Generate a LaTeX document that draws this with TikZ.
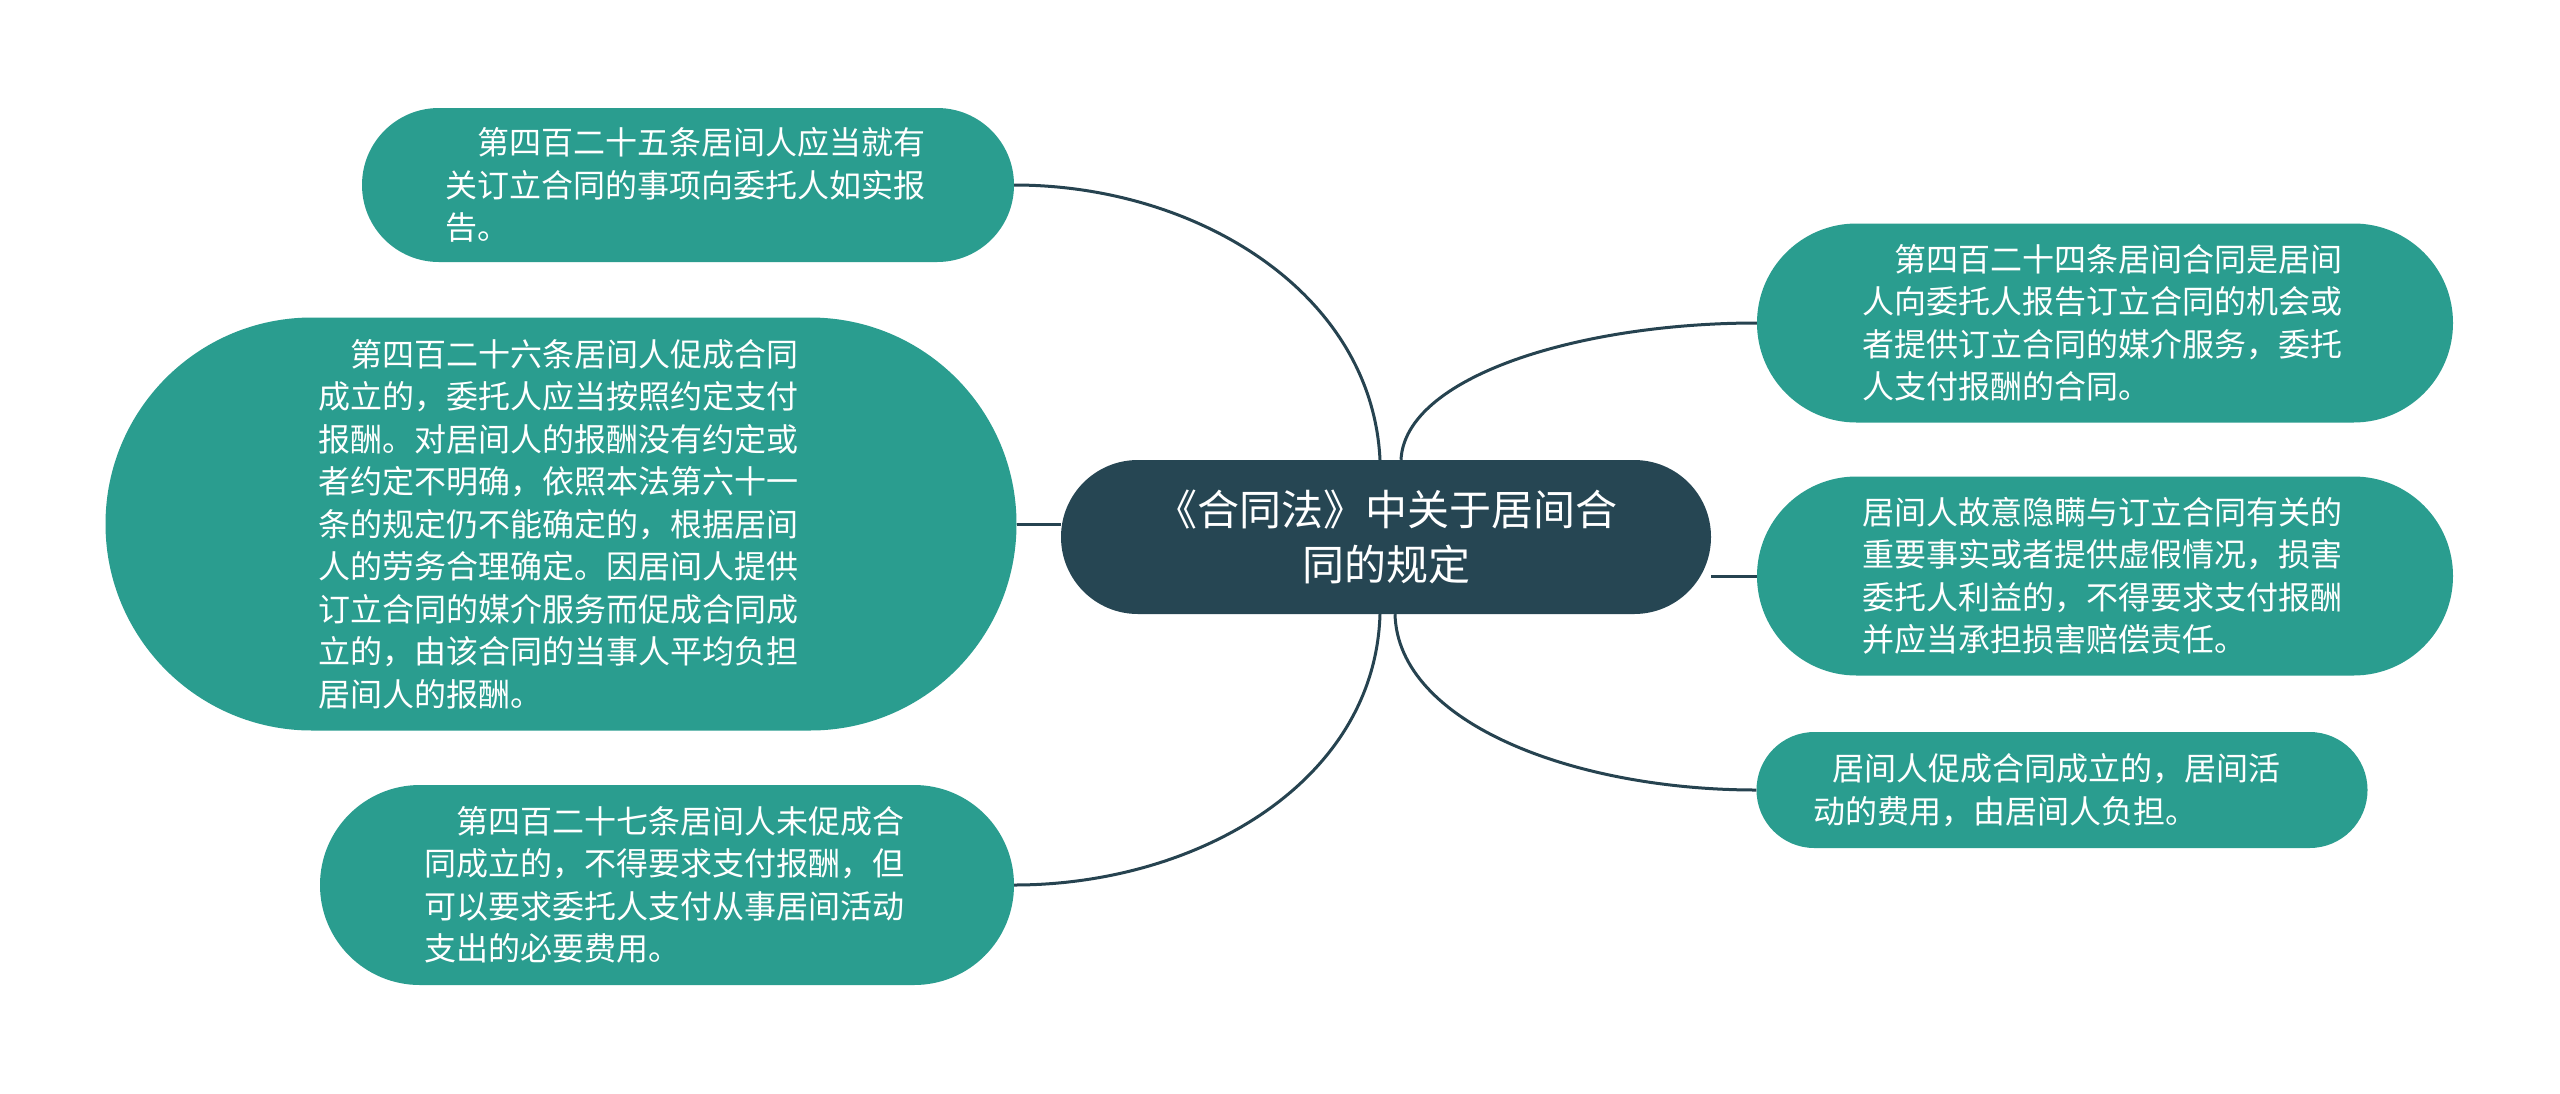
\documentclass[tikz,border=0pt]{standalone}
\usepackage{fontspec}
\newfontfamily\cjk{Noto Sans CJK SC}
\definecolor{leafteal}{RGB}{42,157,143}
\definecolor{rootdark}{RGB}{38,70,83}
\definecolor{linkdark}{RGB}{38,67,80}
\tikzset{
  leaf/.style={rectangle, fill=leafteal, text=white, inner sep=0pt,
    font=\cjk\fontsize{32}{42.5}\selectfont, align=left},
  root/.style={rectangle, fill=rootdark, text=white, inner sep=0pt,
    font=\cjk\fontsize{42}{55}\selectfont, align=center},
  link/.style={draw=linkdark, line width=3pt}
}
\begin{document}
\begin{tikzpicture}[x=1pt,y=-1pt]
\useasboundingbox (0,0) rectangle (2560,1093);
\fill[white] (0,0) rectangle (2560,1093);

\node[root, minimum width=650, minimum height=154, rounded corners=76.9] (c) at (1386,537)
  {《合同法》中关于居间合\\同的规定};

\node[leaf, minimum width=652, minimum height=154, rounded corners=76.9, text width=486] (b1) at (688,185)
  {\hspace*{1em}第四百二十五条居间人应当就有\\关订立合同的事项向委托人如实报\\告。};

\node[leaf, minimum width=911, minimum height=413, rounded corners=206.4, text width=486] (b2) at (561,524)
  {\hspace*{1em}第四百二十六条居间人促成合同\\成立的，委托人应当按照约定支付\\报酬。对居间人的报酬没有约定或\\者约定不明确，依照本法第六十一\\条的规定仍不能确定的，根据居间\\人的劳务合理确定。因居间人提供\\订立合同的媒介服务而促成合同成\\立的，由该合同的当事人平均负担\\居间人的报酬。};

\node[leaf, minimum width=694, minimum height=200, rounded corners=99.9, text width=486] (b3) at (667,885)
  {\hspace*{1em}第四百二十七条居间人未促成合\\同成立的，不得要求支付报酬，但\\可以要求委托人支付从事居间活动\\支出的必要费用。};

\node[leaf, minimum width=696, minimum height=199, rounded corners=99.4, text width=486] (r1) at (2105,323)
  {\hspace*{1em}第四百二十四条居间合同是居间\\人向委托人报告订立合同的机会或\\者提供订立合同的媒介服务，委托\\人支付报酬的合同。};

\node[leaf, minimum width=696, minimum height=199, rounded corners=99.4, text width=486] (r2) at (2105,576)
  {居间人故意隐瞒与订立合同有关的\\重要事实或者提供虚假情况，损害\\委托人利益的，不得要求支付报酬\\并应当承担损害赔偿责任。};

\node[leaf, minimum width=611, minimum height=116, rounded corners=57.9, text width=498] (r3) at (2062,790)
  {\hspace*{0.6em}居间人促成合同成立的，居间活\\动的费用，由居间人负担。};

% connectors
\draw[link] ([xshift=-6]c.north) .. controls +(-8,-167) and +(183,0) .. (b1.east);
\draw[link] (b2.east -| c.west) -- (b2.east);
\draw[link] ([xshift=-6]c.south) .. controls +(-5,168) and +(183,0) .. (b3.east);
\draw[link] ([xshift=15]c.north) .. controls +(4,-83) and +(-178,0) .. (r1.west);
\draw[link] (c.east |- r2.west) -- (r2.west);
\draw[link] ([xshift=9]c.south) .. controls +(3,109) and +(-182,0) .. (r3.west);
\end{tikzpicture}
\end{document}
